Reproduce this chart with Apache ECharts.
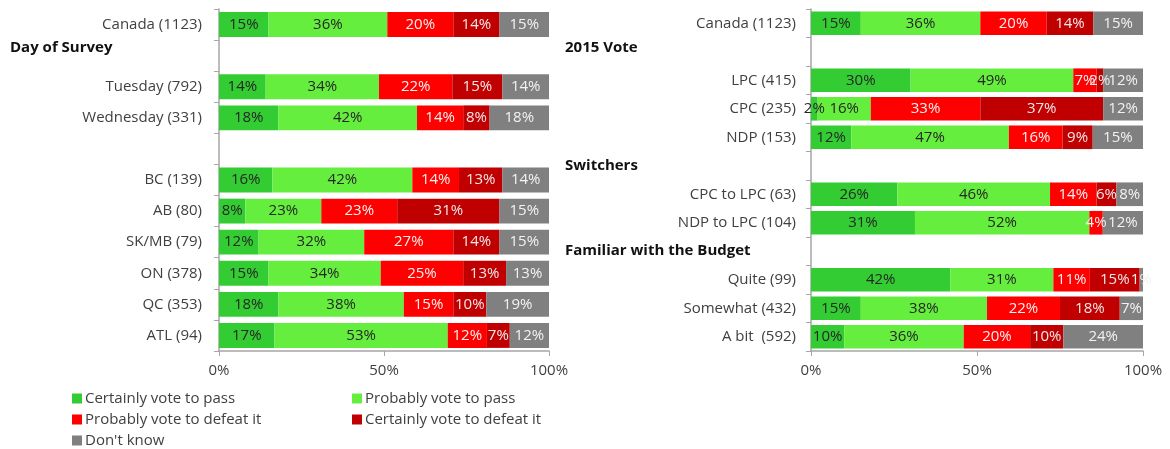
<!DOCTYPE html>
<html>
<head>
<meta charset="utf-8">
<script src="https://cdn.jsdelivr.net/npm/echarts@6/dist/echarts.min.js"></script>
<style>
  html, body { margin: 0; padding: 0; background: #fff; }
  #chart { width: 1170px; height: 449px; }
</style>
</head>
<body>
<div id="chart"></div>
<script>
// 图例 / 分段名称
var segNames = ['Certainly vote to pass', 'Probably vote to pass', 'Probably vote to defeat it', 'Certainly vote to defeat it', "Don't know"];
var segColors = ['#33cc33', '#66ee3f', '#ff0000', '#c00000', '#808080'];
var segLabelColors = ['#262626', '#262626', '#f5f0f0', '#f0e8e8', '#f2f2f2'];

// 左图：分类（空白为分组间隔行）
var leftCats = ['Canada (1123)', ' ', 'Tuesday (792)', 'Wednesday (331)', '  ', 'BC (139)', 'AB (80)', 'SK/MB (79)', 'ON (378)', 'QC (353)', 'ATL (94)'];
var leftRows = [
    [15, 36, 20, 14, 15],
    null,
    [14, 34, 22, 15, 14],
    [18, 42, 14, 8, 18],
    null,
    [16, 42, 14, 13, 14],
    [8, 23, 23, 31, 15],
    [12, 32, 27, 14, 15],
    [15, 34, 25, 13, 13],
    [18, 38, 15, 10, 19],
    [17, 53, 12, 7, 12]
];

// 右图
var rightCats = ['Canada (1123)', ' ', 'LPC (415)', 'CPC (235)', 'NDP (153)', '  ', 'CPC to LPC (63)', 'NDP to LPC (104)', '   ', 'Quite (99)', 'Somewhat (432)', 'A bit  (592)'];
var rightRows = [
    [15, 36, 20, 14, 15],
    null,
    [30, 49, 7, 2, 12],
    [2, 16, 33, 37, 12],
    [12, 47, 16, 9, 15],
    null,
    [26, 46, 14, 6, 8],
    [31, 52, 4, 0, 12],
    null,
    [42, 31, 11, 15, 1],
    [15, 38, 22, 18, 7],
    [10, 36, 20, 10, 24]
];

var xTicks = [0, 50, 100];

// 分组标题
var leftHeaders = [{text: 'Day of Survey', x: 10, y: 47}];
var rightHeaders = [
    {text: '2015 Vote', x: 565, y: 47},
    {text: 'Switchers', x: 565, y: 165},
    {text: 'Familiar with the Budget', x: 565, y: 250}
];

var FONT = '"Open Sans", Lato, sans-serif';
var FS = 15;

function sum(r) {
    var s = 0;
    for (var i = 0; i < r.length; i++) s += r[i];
    return s;
}

// 生成某个图的 5 个堆叠系列（100% 堆叠，按行归一化）
function buildSeries(rows, axisIdx) {
    var list = [];
    for (var k = 0; k < segNames.length; k++) {
        (function(k) {
            list.push({
                name: segNames[k],
                type: 'bar',
                stack: 'total' + axisIdx,
                xAxisIndex: axisIdx,
                yAxisIndex: axisIdx,
                barCategoryGap: axisIdx === 0 ? '20%' : '17%',
                itemStyle: {color: segColors[k]},
                label: {
                    show: true,
                    position: 'inside',
                    fontFamily: FONT,
                    fontSize: FS,
                    color: segLabelColors[k],
                    formatter: function(p) {
                        var r = rows[p.dataIndex];
                        if (!r || !r[k]) return '';
                        return r[k] + '%';
                    }
                },
                data: rows.map(function(r) {
                    return r ? r[k] / sum(r) * 100 : null;
                })
            });
        })(k);
    }
    return list;
}

function xAxisOpt(gridIdx) {
    return {
        type: 'value',
        gridIndex: gridIdx,
        min: xTicks[0],
        max: xTicks[xTicks.length - 1],
        interval: xTicks[1] - xTicks[0],
        splitLine: {show: false},
        axisLine: {show: true, lineStyle: {color: '#a6a6a6', width: 1.5}},
        axisTick: {show: true, length: 5, lineStyle: {color: '#a6a6a6'}},
        axisLabel: {
            margin: 12,
            fontFamily: FONT,
            fontSize: FS,
            color: '#404040',
            formatter: '{value}%'
        }
    };
}

function yAxisOpt(gridIdx, cats, margin) {
    return {
        type: 'category',
        gridIndex: gridIdx,
        inverse: true,
        data: cats,
        axisLine: {show: true, lineStyle: {color: '#a6a6a6', width: 1.5}},
        axisTick: {show: true, length: 5, lineStyle: {color: '#a6a6a6'}},
        axisLabel: {
            margin: margin,
            fontFamily: FONT,
            fontSize: FS,
            color: '#404040'
        }
    };
}

var headers = leftHeaders.concat(rightHeaders).map(function(h) {
    return {
        type: 'text',
        left: h.x,
        top: h.y - 7,
        style: {
            text: h.text,
            fontFamily: FONT,
            fontSize: FS,
            fontWeight: 'bold',
            fill: '#111'
        }
    };
});

var legendCommon = {
    orient: 'vertical',
    icon: 'rect',
    itemWidth: 10,
    itemHeight: 10,
    itemGap: 4,
    padding: 0,
    height: 80,
    textStyle: {fontFamily: FONT, fontSize: FS, color: '#404040', lineHeight: 17, padding: [0, 0, 0, -2]},
    selectedMode: false
};

var option = {
    animation: false,
    textStyle: {fontFamily: FONT},
    grid: [
        {left: 219, width: 330, top: 9, bottom: 98},
        {left: 811, width: 332, top: 9, bottom: 98}
    ],
    xAxis: [xAxisOpt(0), xAxisOpt(1)],
    yAxis: [yAxisOpt(0, leftCats, 17), yAxisOpt(1, rightCats, 15)],
    legend: [
        Object.assign({left: 72, top: 390, data: [segNames[0], segNames[2], segNames[4]]}, legendCommon),
        Object.assign({left: 352, top: 390, data: [segNames[1], segNames[3]]}, legendCommon)
    ],
    graphic: headers,
    series: buildSeries(leftRows, 0).concat(buildSeries(rightRows, 1))
};

var chart = echarts.init(document.getElementById('chart'));
chart.setOption(option);
</script>
</body>
</html>
